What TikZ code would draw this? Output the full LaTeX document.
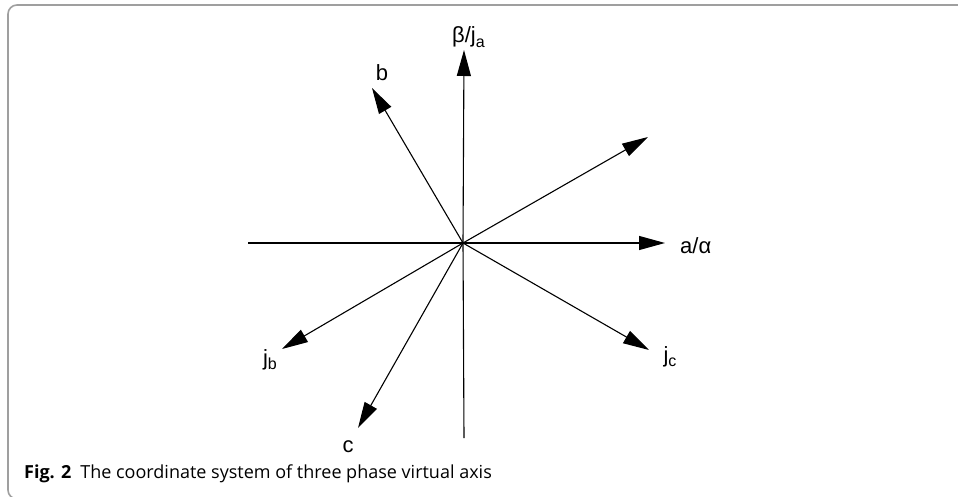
\documentclass[tikz,border=0pt]{standalone}
\usepackage{fontspec}
\setmainfont{Liberation Sans}
\newfontfamily\capfont{Open Sans}
\usetikzlibrary{arrows.meta}
\tikzset{
  phasearrow/.style={
    line width=1.1pt, color=black,
    -{Triangle[length=26pt, width=14pt]}
  },
  phaseline/.style={
    line width=1.1pt, color=black
  },
  phaselabel/.style={
    font=\fontsize{22}{24}\selectfont, inner sep=0pt
  },
  framebox/.style={
    line width=1.6pt, color=gray!75, rounded corners=9pt
  },
}
\newcommand{\lowsub}[1]{\raisebox{-0.35ex}{\fontsize{16}{16}\selectfont #1}}

\begin{document}
\begin{tikzpicture}[x=1pt, y=-1pt]
  \useasboundingbox (0,0) rectangle (958,497);

  % ── Frame ─────────────────────────────────────────────────────
  \draw[framebox] (975,5) -- (8,5) -- (8,499) -- (60,499);

  % ── Axis points ───────────────────────────────────────────────
  \coordinate (O)      at (463,243);
  \coordinate (alpha)  at (665,243);
  \coordinate (xneg)   at (248,243);
  \coordinate (beta)   at (464,50);
  \coordinate (yneg)   at (464,438);
  \coordinate (b)      at (372,88);
  \coordinate (ur)     at (648,137);
  \coordinate (jc)     at (649,350);
  \coordinate (jb)     at (282,349);
  \coordinate (c)      at (358,428);

  % ── Axes ──────────────────────────────────────────────────────
  \draw[phaseline]  (xneg) -- (O);
  \draw[phaseline]  (yneg) -- (O);
  \draw[phasearrow] (O) -- (alpha);
  \draw[phasearrow] (O) -- (beta);
  \draw[phasearrow] (O) -- (b);
  \draw[phasearrow] (O) -- (ur);
  \draw[phasearrow] (O) -- (jc);
  \draw[phasearrow] (O) -- (jb);
  \draw[phasearrow] (O) -- (c);

  % ── Labels ────────────────────────────────────────────────────
  \node[phaselabel, anchor=base west] (lbeta) at (452,43) {β/j\lowsub{a}};
  \node[phaselabel] (lb) at (382,73) {b};
  \node[phaselabel, anchor=west] (lalpha) at (680,246) {a/α};
  \node[phaselabel] (ljc) at (670,357) {j\lowsub{c}};
  \node[phaselabel] (ljb) at (270,360) {j\lowsub{b}};
  \node[phaselabel] (lc) at (348,447) {c};

  % ── Caption ───────────────────────────────────────────────────
  \node[anchor=base west, inner sep=0pt, font=\capfont\fontsize{18}{21}\selectfont]
    (caption) at (24,478)
    {\textbf{Fig. 2}\hspace{9pt}The coordinate system of three phase virtual axis};
\end{tikzpicture}
\end{document}
